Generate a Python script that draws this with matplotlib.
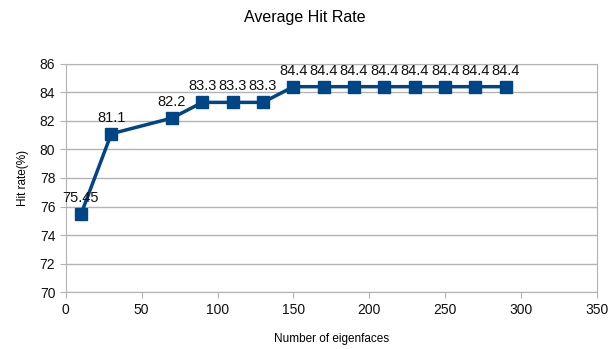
import numpy as np
import matplotlib
matplotlib.use("Agg")
import matplotlib.pyplot as plt

plt.rcParams['font.family'] = ['Liberation Sans', 'DejaVu Sans']

eigenfaces = [10, 30, 70, 90, 110, 130, 150, 170, 190, 210, 230, 250, 270, 290]
hit_rate = [75.45, 81.1, 82.2, 83.3, 83.3, 83.3, 84.4, 84.4, 84.4, 84.4, 84.4, 84.4, 84.4, 84.4]
labels = ["75.45", "81.1", "82.2", "83.3", "83.3", "83.3",
          "84.4", "84.4", "84.4", "84.4", "84.4", "84.4", "84.4", "84.4"]

fig = plt.figure(figsize=(6.09, 3.49), dpi=100)
ax = fig.add_axes([0.108, 0.163, 0.872, 0.654])

blue = '#004586'
grid = '#b3b3b3'

ax.plot(eigenfaces, hit_rate, color=blue, lw=2.5, marker='s', ms=8.5, zorder=3)
for x, y, t in zip(eigenfaces, hit_rate, labels):
    ax.annotate(t, (x, y), xytext=(0, 6.5), textcoords='offset points',
                ha='center', va='bottom', fontsize=10.5, color='#111111')

ax.set_xlim(0, 350)
ax.set_ylim(70, 86)
ax.set_xticks(np.arange(0, 351, 50))
ax.set_yticks(np.arange(70, 87, 2))
ax.yaxis.grid(True, color=grid, lw=1)
ax.set_axisbelow(True)
for s in ax.spines.values():
    s.set_color(grid)
ax.tick_params(colors=grid, labelcolor='#111111', labelsize=10, length=4)

ax.set_xlabel("Number of eigenfaces", fontsize=8.5, labelpad=12)
ax.set_ylabel("Hit rate(%)", fontsize=8.5, labelpad=8)
fig.suptitle("Average Hit Rate", fontsize=11.5, y=0.97)

fig.savefig("out.png", dpi=100)
